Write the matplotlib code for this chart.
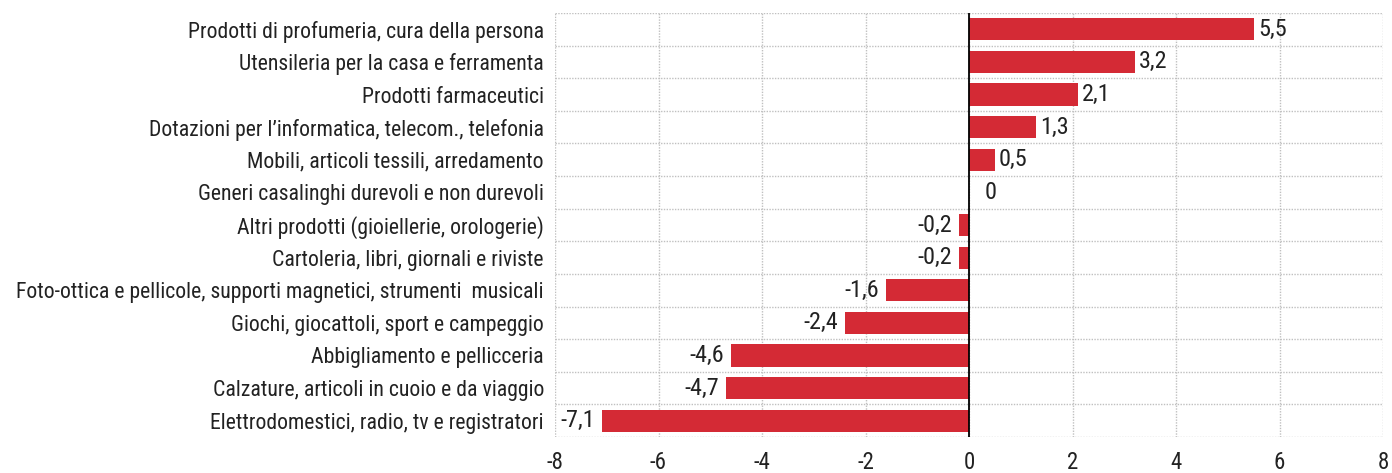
import matplotlib
matplotlib.use("Agg")
import matplotlib.pyplot as plt

categories = [
    "Prodotti di profumeria, cura della persona",
    "Utensileria per la casa e ferramenta",
    "Prodotti farmaceutici",
    "Dotazioni per l\u2019informatica, telecom., telefonia",
    "Mobili, articoli tessili, arredamento",
    "Generi casalinghi durevoli e non durevoli",
    "Altri prodotti (gioiellerie, orologerie)",
    "Cartoleria, libri, giornali e riviste",
    "Foto-ottica e pellicole, supporti magnetici, strumenti  musicali",
    "Giochi, giocattoli, sport e campeggio",
    "Abbigliamento e pellicceria",
    "Calzature, articoli in cuoio e da viaggio",
    "Elettrodomestici, radio, tv e registratori",
]
values = [5.5, 3.2, 2.1, 1.3, 0.5, 0.0, -0.2, -0.2, -1.6, -2.4, -4.6, -4.7, -7.1]
labels = ["5,5", "3,2", "2,1", "1,3", "0,5", "0", "-0,2", "-0,2", "-1,6", "-2,4", "-4,6", "-4,7", "-7,1"]
xticks = [-8, -6, -4, -2, 0, 2, 4, 6, 8]

plt.rcParams["font.family"] = ["Roboto Condensed", "DejaVu Sans"]

fig = plt.figure(figsize=(13.92, 4.73), dpi=100)
ax = fig.add_axes([555/1392, 1-437/473, (1383-555)/1392, (437-13)/473])

n = len(categories)
ypos = list(range(n))
ax.barh(ypos, values, height=0.68, color="#d42a35", zorder=3)
ax.set_ylim(n - 0.5, -0.5)
ax.set_xlim(-8, 8)
ax.set_xticks(xticks)
ax.set_xticklabels([str(t) for t in xticks], fontsize=16.5, color="#222222")
ax.set_yticks(ypos)
ax.set_yticklabels(categories, fontsize=15.7, color="#222222")
ax.tick_params(length=0, pad=8)
ax.tick_params(axis="x", pad=10)

# gridlines
for b in [i - 0.5 for i in range(n + 1)]:
    ax.axhline(b, color="#c0c0c0", lw=1, ls=(0, (1, 1)), zorder=1)
for t in xticks:
    ax.axvline(t, color="#c0c0c0", lw=1, ls=(0, (1, 1)), zorder=1)
for s in ax.spines.values():
    s.set_visible(False)
ax.axvline(0, color="black", lw=1.3, zorder=4)

for y, v, lab in zip(ypos, values, labels):
    if v > 0:
        ax.annotate(lab, (v, y), xytext=(3, 0), textcoords="offset points",
                    ha="left", va="center", fontsize=17.5, color="#222222")
    elif v < 0:
        ax.annotate(lab, (v, y), xytext=(-5, 0), textcoords="offset points",
                    ha="right", va="center", fontsize=17.5, color="#222222")
    else:
        ax.annotate(lab, (v, y), xytext=(11, 0), textcoords="offset points",
                    ha="left", va="center", fontsize=17.5, color="#222222")

fig.savefig("out.png", dpi=100)
